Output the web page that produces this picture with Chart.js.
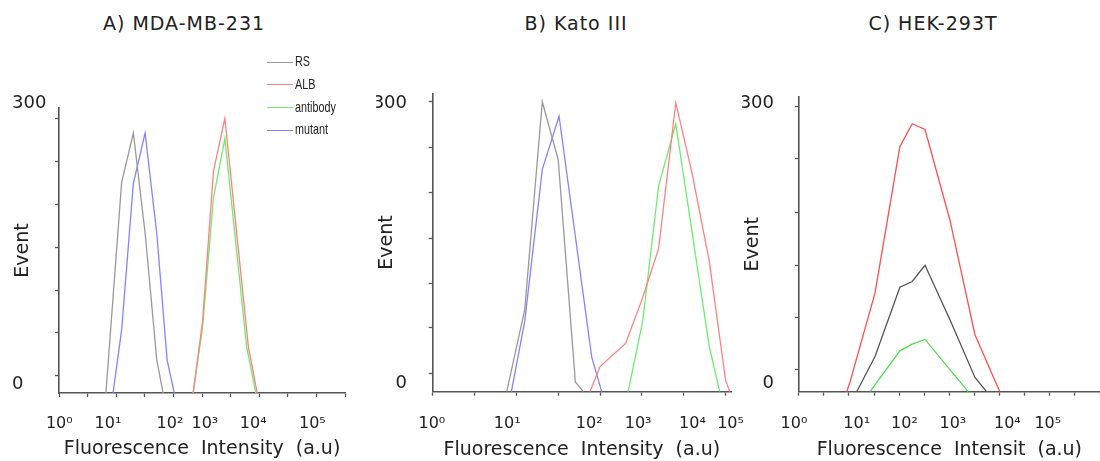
<!DOCTYPE html>
<html lang="en">
<head>
<meta charset="UTF-8">
<title>Fluorescence histograms</title>
<script src="https://cdn.jsdelivr.net/npm/chart.js"></script>
<style>
  body { margin: 0; width: 1100px; height: 461px; background: #fff; position: relative; overflow: hidden;
         font-family: "DejaVu Sans", sans-serif; color: #222; }
  canvas, .title, .legend { position: absolute; }
  .title { top: 11px; font-size: 19px; line-height: 24px; letter-spacing: 1px; white-space: nowrap; transform: translateX(-50%); }
  .legend { left: 267px; top: 50px; font-family: "Liberation Sans Narrow", "Liberation Sans", sans-serif; font-size: 15px; }
  .legend div { height: 22.8px; line-height: 22.8px; white-space: nowrap; }
  .legend .line { display: inline-block; width: 26px; height: 0; border-top: 1px solid; vertical-align: middle; margin-right: 2px; }
  .legend .name { display: inline-block; transform: scaleX(0.72); transform-origin: left center; }
</style>
</head>
<body>
<div class="title" style="left:184px">A) MDA-MB-231</div>
<div class="title" style="left:576px">B) Kato III</div>
<div class="title" style="left:933px">C) HEK-293T</div>
<canvas id="chartA" width="370" height="461" style="left:0"></canvas>
<canvas id="chartB" width="380" height="461" style="left:370px"></canvas>
<canvas id="chartC" width="360" height="461" style="left:740px"></canvas>
<div class="legend" id="legendA"></div>

<script>
// x values are positions along the axis in tick steps, y values are events
const xLabels = ['10⁰', '10¹', '10²', '10³', '10⁴', '10⁵'];
const yLabels = ['0', '300'];

// A) MDA-MB-231
const rsA = [[1.64, 0], [2.19, 230], [2.60, 284], [3.01, 175], [3.42, 36], [3.64, 0]];
const albA = [[4.69, 0], [5.02, 78], [5.40, 242], [5.80, 300], [6.62, 51], [6.93, 0]];
const antibodyA = [[4.69, 0], [5.02, 72], [5.40, 213], [5.80, 278], [6.56, 51], [6.88, 0]];
const mutantA = [[1.89, 0], [2.19, 69], [2.60, 229], [3.01, 284], [3.42, 174], [3.78, 36], [4.03, 0]];
const xTicksA = [0, 1, 2, 3, 4, 5, 6, 7, 8, 9, 10];
const xLabelAtA = [0.01, 1.71, 3.88, 5.10, 6.79, 8.86];
const yTicksA = [19, 66, 112, 159, 206, 253, 300];
const yLabelAtA = [9.8, 316.7];

// B) Kato III
const rsB = [[1.77, 0], [2.20, 85], [2.62, 300], [3.00, 240], [3.41, 10], [3.60, 0]];
const albB = [[3.76, 0], [4.00, 26], [4.61, 50], [5.00, 95], [5.40, 148], [5.81, 299], [6.19, 228], [6.61, 135], [7.00, 12], [7.10, 0]];
const antibodyB = [[4.67, 0], [5.02, 73], [5.40, 213], [5.81, 277], [6.61, 47], [6.86, 0]];
const mutantB = [[1.88, 0], [2.20, 73], [2.62, 230], [3.02, 285], [3.80, 36], [4.04, 0]];
const xTicksB = [0, 1, 2, 3, 4, 5, 6, 7];
const xLabelAtB = [-0.02, 1.78, 3.74, 4.91, 6.21, 7.12];
const yTicksB = [19, 66, 112, 159, 206, 253, 300];
const yLabelAtB = [8.5, 298];

// C) HEK-293T
const rsC = [[2.31, 0], [3.04, 37], [4.03, 110], [4.52, 116], [5.03, 133], [6.02, 76], [7.02, 15], [7.48, 0]];
const albC = [[1.91, 0], [2.04, 10], [3.04, 104], [4.03, 258], [4.52, 282], [5.03, 276], [6.02, 181], [7.02, 60], [8.01, 0]];
const antibodyC = [[2.84, 0], [4.03, 43], [4.52, 50], [5.03, 55], [6.75, 0]];
const xTicksC = [0, 1, 2, 3, 4, 5, 6, 7, 8, 9, 10, 11, 12];
const xLabelAtC = [-0.19, 2.31, 4.21, 6.14, 8.31, 9.92];
const yTicksC = [23, 78, 133, 189, 245, 300];
const yLabelAtC = [8.6, 303.4];

const axisColor = '#555';
const textColor = '#222';
Chart.defaults.font.family = "'DejaVu Sans', sans-serif";

function makePanel(canvasId, p) {
    const datasets = p.series.map(s => ({
        label: s.name,
        data: s.points.map(([x, y]) => ({ x, y })),
        borderColor: s.color,
        borderWidth: 1.3,
        pointRadius: 0,
        tension: 0,
        fill: false
    }));
    return new Chart(document.getElementById(canvasId), {
        type: 'line',
        data: { datasets },
        options: {
            responsive: false,
            animation: false,
            devicePixelRatio: 1,
            layout: { padding: p.padding },
            plugins: { legend: { display: false }, tooltip: { enabled: false } },
            scales: {
                x: {
                    type: 'linear', min: 0, max: p.xMax, bounds: 'data',
                    afterBuildTicks: a => { a.ticks = p.xTicks.map(v => ({ value: v })); },
                    ticks: { display: false },
                    grid: { drawOnChartArea: false, tickLength: 4, tickColor: axisColor, tickWidth: 1.3 },
                    border: { color: axisColor, width: 1.6 }
                },
                x2: {
                    type: 'linear', position: 'bottom', min: 0, max: p.xMax, bounds: 'data',
                    afterBuildTicks: a => { a.ticks = p.xLabelAt.map(v => ({ value: v })); },
                    afterFit: a => { a.height = p.x2Height; a.paddingLeft = 0; a.paddingRight = 0; },
                    ticks: {
                        autoSkip: false, maxRotation: 0, padding: p.xTickPad, color: textColor,
                        font: { size: 16 }, callback: (v, i) => xLabels[i]
                    },
                    grid: { display: false },
                    border: { display: false },
                    title: {
                        display: true, text: p.xTitle, color: textColor,
                        font: { size: 19 }, padding: { top: 0, bottom: p.xTitlePad }
                    }
                },
                y: {
                    type: 'linear', min: 0, max: p.yMax, bounds: 'data',
                    afterBuildTicks: a => { a.ticks = p.yTicks.map(v => ({ value: v })); },
                    ticks: { display: false },
                    grid: { drawOnChartArea: false, tickLength: 4, tickColor: axisColor, tickWidth: 1.3 },
                    border: { color: axisColor, width: 1.6 }
                },
                y2: {
                    type: 'linear', position: 'left', min: 0, max: p.yMax, bounds: 'data',
                    afterBuildTicks: a => { a.ticks = p.yLabelAt.map(v => ({ value: v })); },
                    afterFit: a => { a.width = p.y2Width; a.paddingTop = 0; a.paddingBottom = 0; },
                    ticks: {
                        crossAlign: p.yAlign, padding: p.yTickPad, color: textColor,
                        font: { size: 18 }, callback: (v, i) => yLabels[i]
                    },
                    grid: { display: false },
                    border: { display: false },
                    title: {
                        display: true, text: 'Event', color: textColor,
                        font: { size: 19 }, padding: { top: p.yTitlePad, bottom: 0 }
                    }
                }
            }
        }
    });
}

const lightColors = { RS: '#999999', ALB: '#ff8080', antibody: '#70ea70', mutant: '#8484ff' };
const darkColors = { RS: '#555555', ALB: '#ff4f4f', antibody: '#4fe04f' };

const seriesA = [
    { name: 'RS', points: rsA, color: lightColors.RS },
    { name: 'ALB', points: albA, color: lightColors.ALB },
    { name: 'antibody', points: antibodyA, color: lightColors.antibody },
    { name: 'mutant', points: mutantA, color: lightColors.mutant }
];

makePanel('chartA', {
    series: seriesA,
    xMax: 10, xTicks: xTicksA, xLabelAt: xLabelAtA,
    yMax: 311.3, yTicks: yTicksA, yLabelAt: yLabelAtA,
    padding: { left: 12, right: 25, top: 108, bottom: 0 },
    x2Height: 64, xTickPad: 9.4, xTitlePad: 0.6,
    xTitle: 'Fluorescence  Intensity  (a.u)',
    y2Width: 43, yAlign: 'far', yTickPad: 4, yTitlePad: 0
});

makePanel('chartB', {
    series: [
        { name: 'RS', points: rsB, color: lightColors.RS },
        { name: 'ALB', points: albB, color: lightColors.ALB },
        { name: 'antibody', points: antibodyB, color: lightColors.antibody },
        { name: 'mutant', points: mutantB, color: lightColors.mutant }
    ],
    xMax: 7.13, xTicks: xTicksB, xLabelAt: xLabelAtB,
    yMax: 308.7, yTicks: yTicksB, yLabelAt: yLabelAtB,
    padding: { left: 6, right: 19, top: 93.3, bottom: 0 },
    x2Height: 65.3, xTickPad: 10.7, xTitlePad: 0,
    xTitle: 'Fluorescence  Intensity  (a.u)',
    y2Width: 52.7, yAlign: 'near', yTickPad: 13.7, yTitlePad: 0
});

makePanel('chartC', {
    series: [
        { name: 'RS', points: rsC, color: darkColors.RS },
        { name: 'ALB', points: albC, color: darkColors.ALB },
        { name: 'antibody', points: antibodyC, color: darkColors.antibody }
    ],
    xMax: 12, xTicks: xTicksC, xLabelAt: xLabelAtC,
    yMax: 310.5, yTicks: yTicksC, yLabelAt: yLabelAtC,
    padding: { left: 2, right: 0, top: 96.7, bottom: 0 },
    x2Height: 65.3, xTickPad: 10.7, xTitlePad: 0,
    xTitle: 'Fluorescence  Intensit  (a.u)',
    y2Width: 52.7, yAlign: 'near', yTickPad: 12.7, yTitlePad: 0
});

// legend for panel A
const legendA = document.getElementById('legendA');
seriesA.forEach(s => {
    const row = document.createElement('div');
    const line = document.createElement('span');
    line.className = 'line';
    line.style.borderTopColor = s.color;
    const name = document.createElement('span');
    name.className = 'name';
    name.textContent = s.name;
    row.appendChild(line);
    row.appendChild(name);
    legendA.appendChild(row);
});
</script>
</body>
</html>
